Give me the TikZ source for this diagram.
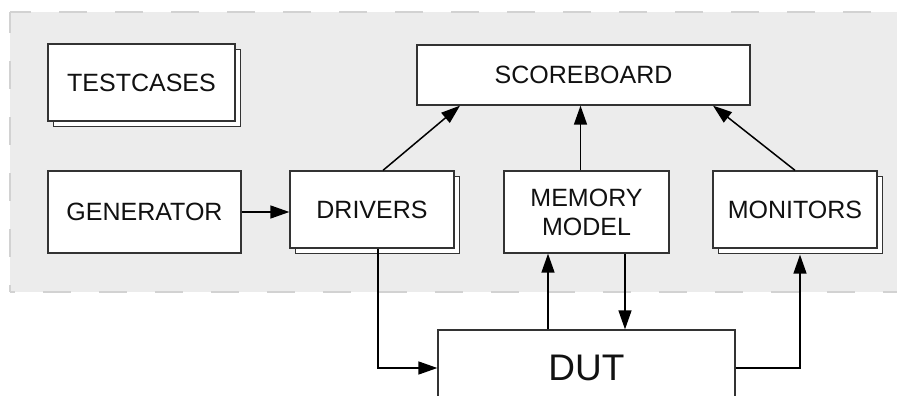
\documentclass[tikz,border=0pt]{standalone}
\usepackage{fontspec}
\setmainfont{Liberation Sans}
\usetikzlibrary{arrows.meta,shadows}
\definecolor{panel}{HTML}{ECECEC}
\definecolor{paneledge}{HTML}{D2D2D2}
\definecolor{boxline}{HTML}{333333}
\definecolor{ink}{HTML}{111111}
\tikzset{
  blockbox/.style={draw=boxline, line width=1.3pt, fill=white, inner sep=0pt,
    text=ink, font=\fontsize{25}{29}\selectfont, align=center},
  stackbox/.style={blockbox, copy shadow={shadow xshift=5.5pt, shadow yshift=-5.5pt}},
  arr/.style={draw=black, line width=1.5pt, -{Triangle[length=19pt,width=13pt]}},
  edge/.style={draw=paneledge, line width=1.5pt, dash pattern=on 28pt off 28pt}
}
\begin{document}
\begin{tikzpicture}[x=1pt,y=-1pt]
  \clip (0,0) rectangle (897,396);
  \useasboundingbox (0,0) rectangle (897,396);
  % testbench panel
  \fill[panel] (10,12) rectangle (900,292);
  \draw[edge, dash phase=7pt] (10,12) -- (900,12);
  \draw[edge, dash phase=23pt] (10,292) -- (900,292);
  \draw[edge, dash phase=7pt] (10,12) -- (10,292);

  % blocks
  \node[stackbox, minimum width=187pt, minimum height=77pt] (tests) at (141.5,82.5) {TESTCASES};
  \node[blockbox, minimum width=333pt, minimum height=60pt] (score) at (583.5,75) {SCOREBOARD};
  \node[blockbox, minimum width=193pt, minimum height=82pt] (gen) at (144.5,212) {GENERATOR};
  \node[stackbox, minimum width=164pt, minimum height=77pt] (drv) at (372,209.5) {DRIVERS};
  \node[blockbox, minimum width=165pt, minimum height=82pt] (mem) at (586.5,212) {MEMORY\\MODEL};
  \node[stackbox, minimum width=164pt, minimum height=77pt] (mon) at (795,209.5) {MONITORS};
  \node[blockbox, minimum width=297pt, minimum height=76pt, font=\fontsize{37}{40}\selectfont] (dut) at (586.5,368) {DUT};

  % connections
  \draw[arr] (gen.east) -- (gen.east -| drv.west);
  \draw[arr] ([xshift=11pt]drv.north) -- ([xshift=-123.5pt]score.south);
  \draw[arr] ([xshift=-6pt]mem.north) -- ([xshift=-6pt]mem.north |- score.south);
  \draw[arr] (mon.north) -- ([xshift=129.5pt]score.south);
  \draw[arr] ([xshift=6pt]drv.south) |- (dut.west);
  \draw[arr] ([xshift=-38.5pt]dut.north) -- ([xshift=-38.5pt]mem.south);
  \draw[arr] ([xshift=38.5pt]mem.south) -- ([xshift=38.5pt]dut.north);
  \draw[arr] (dut.east) -| ([xshift=5pt,yshift=-6pt]mon.south);
\end{tikzpicture}
\end{document}
